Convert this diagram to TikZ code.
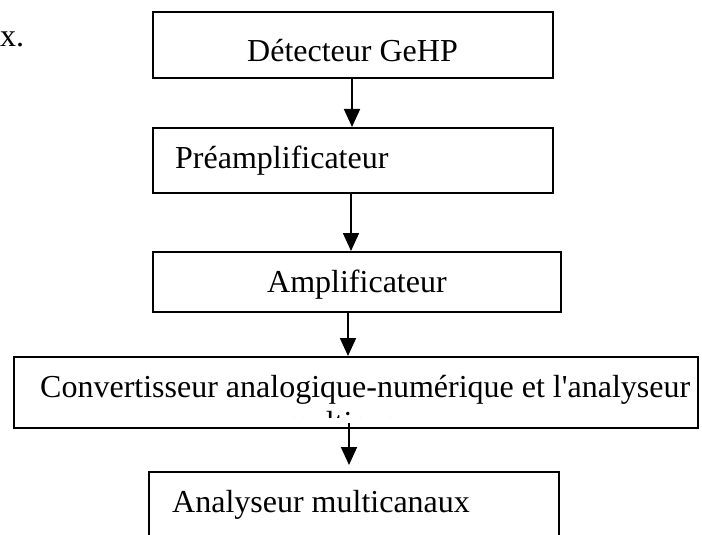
\documentclass[tikz,border=0pt]{standalone}
\usepackage{fontspec}
\setmainfont{Liberation Serif}
\usetikzlibrary{arrows.meta}
\begin{document}
\begin{tikzpicture}[x=1pt,y=-1pt,
  box/.style={draw, line width=2pt, inner sep=0pt},
  lbl/.style={inner sep=0pt, font=\fontsize{32}{36}\selectfont},
  arr/.style={line width=1.8pt, -{Triangle[length=18pt,width=16pt]}}]
\useasboundingbox (0,0) rectangle (702,535);
\clip (0,0) rectangle (702,535);

% boxes
\node[box, minimum width=400pt, minimum height=66pt] (b1) at (353,45) {};
\node[box, minimum width=400pt, minimum height=65pt] (b2) at (353,160.5) {};
\node[box, minimum width=408pt, minimum height=60pt] (b3) at (357,282) {};
\node[box, minimum width=684pt, minimum height=71pt] (b4) at (356,392.5) {};
\node[box, minimum width=410pt, minimum height=96pt] (b5) at (354,520) {};

% texts
\node[lbl, anchor=base west] (tx) at (0,47) {x.};
\node[lbl, anchor=base west] (t1) at (247,62) {Détecteur GeHP};
\node[lbl, anchor=base west] (t2) at (175,168) {Préamplificateur};
\node[lbl, anchor=base west] (t3) at (267,292) {Amplificateur};
\node[lbl, anchor=base west] (t4) at (40,397) {Convertisseur analogique-numérique et l\textquotesingle analyseur};
\begin{scope}
  \clip (14,350) rectangle (698,417);
  \node[lbl, anchor=base] (t4b) at (364,433) {multicanaux};
\end{scope}
\node[lbl, anchor=base west] (t5) at (172,512) {Analyseur multicanaux};

% arrows
\draw[arr] ([xshift=-1pt]b1.south) -- ([xshift=-1pt]b1.south |- b2.north);
\draw[arr] ([xshift=-2pt]b2.south) -- ([xshift=-2pt]b2.south |- b3.north);
\draw[arr] ([xshift=-9pt]b3.south) -- ([xshift=-9pt]b3.south |- b4.north);
\draw[arr] ([xshift=-7pt,yshift=6pt]b4.south) -- ([xshift=-7pt,yshift=6pt]b4.south |- b5.north);
\end{tikzpicture}
\end{document}
